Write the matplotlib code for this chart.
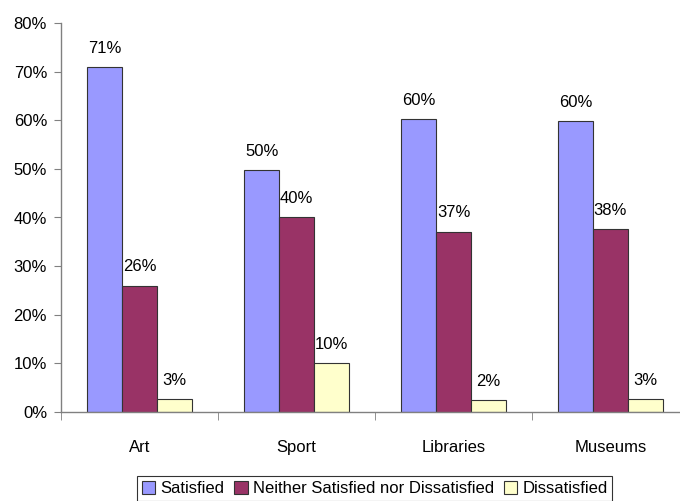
import numpy as np
import matplotlib.pyplot as plt

plt.rcParams['font.family'] = ['Liberation Sans', 'DejaVu Sans']

categories = ['Art', 'Sport', 'Libraries', 'Museums']
satisfied = [71.0, 49.8, 60.3, 59.8]
neither = [26.0, 40.1, 37.1, 37.6]
dissatisfied = [2.6, 10.0, 2.4, 2.6]

series = [('Satisfied', satisfied, '#9999FF'),
          ('Neither Satisfied nor Dissatisfied', neither, '#993366'),
          ('Dissatisfied', dissatisfied, '#FFFFCC')]

fig = plt.figure(figsize=(6.8, 5.01), dpi=100)
ax = fig.add_axes([61/680, 89/501, 628/680, 389/501])

x = np.arange(len(categories))
w = 0.222
for i, (name, vals, col) in enumerate(series):
    pos = x + (i - 1) * w
    bars = ax.bar(pos, vals, w, color=col, edgecolor='#333333', linewidth=0.8, label=name)
    for b, v in zip(bars, vals):
        ax.annotate(f'{v:.0f}%', (b.get_x() + b.get_width() / 2, v),
                    xytext=(0, 8), textcoords='offset points',
                    ha='center', va='bottom', fontsize=12)

ax.set_xlim(-0.5, 3.5)
ax.set_ylim(0, 80)
ax.set_yticks(range(0, 81, 10))
ax.set_yticklabels([f'{t}%' for t in range(0, 81, 10)], fontsize=12)
ax.set_xticks(x)
ax.set_xticklabels(categories, fontsize=12)
ax.set_xticks(np.arange(-0.5, 4, 1), minor=True)
ax.tick_params(axis='x', which='major', length=0, pad=20)
ax.tick_params(axis='x', which='minor', length=6, color='#808080', direction='out')
ax.tick_params(axis='y', length=5, color='#808080', direction='out', pad=5)
for s in ['top', 'right']:
    ax.spines[s].set_visible(False)
for s in ['left', 'bottom']:
    ax.spines[s].set_color('#808080')
    ax.spines[s].set_linewidth(1.0)

leg = fig.legend(loc='upper left', bbox_to_anchor=(137/680, 25/501), ncol=3,
                 fontsize=12, frameon=True, fancybox=False, edgecolor='black',
                 handlelength=0.8, handleheight=0.8, handletextpad=0.3,
                 columnspacing=0.6, borderpad=0.3, borderaxespad=0)
leg.get_frame().set_linewidth(0.8)

fig.savefig('out.png', dpi=100)
